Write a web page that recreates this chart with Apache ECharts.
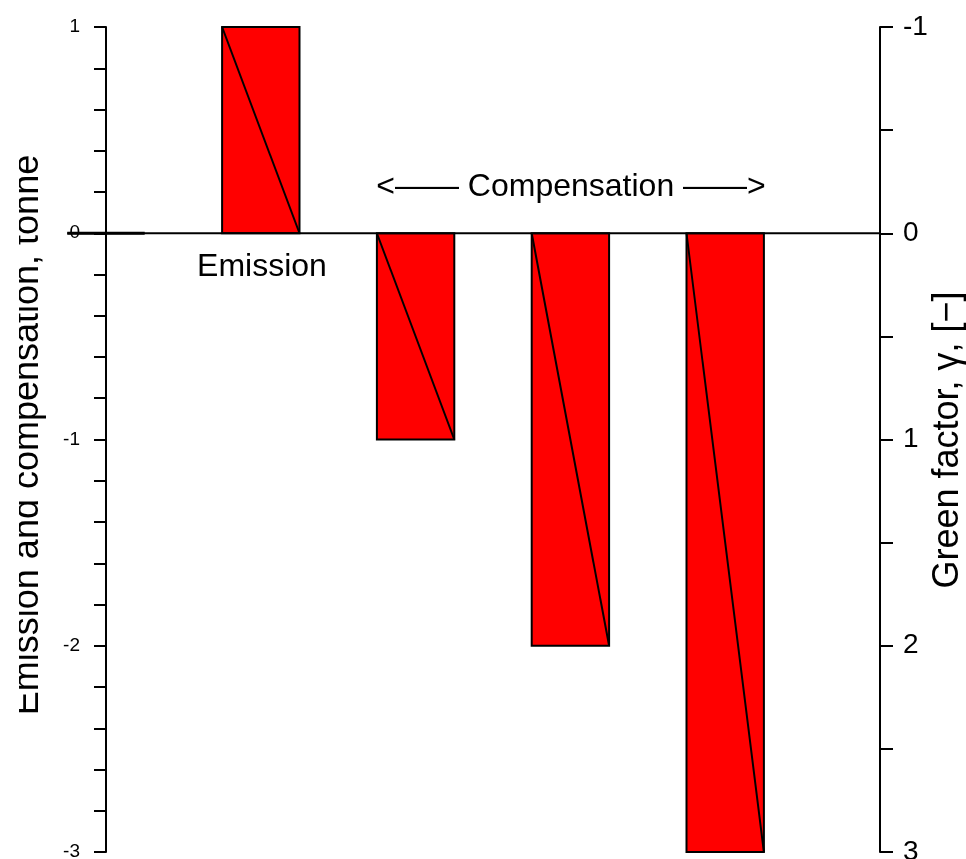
<!DOCTYPE html>
<html>
<head>
<meta charset="utf-8">
<script src="https://cdn.jsdelivr.net/npm/echarts@6/dist/echarts.min.js"></script>
<style>
html,body{margin:0;padding:0;background:#fff;overflow:hidden;}
#chart{width:966px;height:859px;}
</style>
</head>
<body>
<div id="chart"></div>
<script>
// ---- data ----
const categories = ['Emission', 'Compensation 1', 'Compensation 2', 'Compensation 3'];
const positions = [1, 2, 3, 4];
const values = [1, -1, -2, -3];           // tonne
const leftTicks = { min: -3, max: 1, step: 0.2 };
const rightTicks = { min: -1, max: 3, step: 0.5 }; // green factor (inverted)

const FONT = "'Liberation Sans', Arial, Helvetica, sans-serif";
const barData = positions.map((p, i) => [p, values[i], categories[i]]);

const chart = echarts.init(document.getElementById('chart'), null, { renderer: 'canvas', width: 966, height: 859 });

function intLabel(v) {
  return Math.abs(v - Math.round(v)) < 1e-6 ? String(Math.round(v)) : '';
}

const option = {
  animation: false,
  backgroundColor: '#ffffff',
  grid: { left: 106, width: 774, top: 27, height: 825, containLabel: false, outerBoundsMode: 'none' },
  xAxis: { type: 'value', min: 0, max: 5, show: false },
  yAxis: [
    {
      type: 'value', position: 'left',
      min: leftTicks.min, max: leftTicks.max, interval: leftTicks.step,
      axisLine: { show: true, onZero: false, lineStyle: { color: '#000', width: 2 } },
      axisTick: { show: true, length: 12, lineStyle: { color: '#000', width: 2 } },
      axisLabel: { show: true, margin: 26, color: '#000', fontSize: 19, fontFamily: FONT,
                   formatter: intLabel, showMinLabel: true, showMaxLabel: true },
      splitLine: { show: false }
    },
    {
      type: 'value', position: 'right', inverse: true,
      min: rightTicks.min, max: rightTicks.max, interval: rightTicks.step,
      axisLine: { show: true, onZero: false, lineStyle: { color: '#000', width: 2 } },
      axisTick: { show: true, length: 13, lineStyle: { color: '#000', width: 2 } },
      axisLabel: { show: true, margin: 23, color: '#000', fontSize: 28, fontFamily: FONT,
                   formatter: intLabel, showMinLabel: true, showMaxLabel: true },
      splitLine: { show: false }
    }
  ],
  series: [
    {
      type: 'custom',
      name: 'bars',
      yAxisIndex: 0,
      data: barData,
      encode: { x: 0, y: 1 },
      renderItem: function (params, api) {
        const x = api.value(0), v = api.value(1);
        const pZero = api.coord([x, 0]);
        const pVal = api.coord([x, v]);
        const w = api.size([0.5, 0])[0];
        const left = pZero[0] - w / 2, right = pZero[0] + w / 2;
        const top = Math.min(pZero[1], pVal[1]), bottom = Math.max(pZero[1], pVal[1]);
        return {
          type: 'group',
          children: [
            { type: 'rect', shape: { x: left, y: top, width: w, height: bottom - top },
              style: { fill: '#ff0000', stroke: '#000', lineWidth: 2 } },
            { type: 'line', shape: { x1: left, y1: top, x2: right, y2: bottom },
              style: { stroke: '#000', lineWidth: 2 } }
          ]
        };
      },
      z: 2
    }
  ]
};
chart.setOption(option);

// zero reference line, positioned through the chart's own scales
const z0 = chart.convertToPixel({ xAxisIndex: 0, yAxisIndex: 0 }, [0, 0]);
const z5 = chart.convertToPixel({ xAxisIndex: 0, yAxisIndex: 0 }, [5, 0]);
const unit = (z5[0] - z0[0]) / 5;
chart.setOption({
  graphic: [
    { type: 'line', z: 5, shape: { x1: z0[0] - 0.25 * unit, y1: z0[1], x2: z5[0], y2: z0[1] },
      style: { stroke: '#000', lineWidth: 2 } },
    { type: 'line', z: 5, shape: { x1: z0[0] - 0.25 * unit, y1: z0[1], x2: z0[0] + 0.25 * unit, y2: z0[1] },
      style: { stroke: '#000', lineWidth: 3 } },
    { type: 'text', x: 28, y: 435, rotation: Math.PI / 2, z: 10,
      style: { text: 'Emission and compensation, tonne', font: '36px ' + FONT, fill: '#000',
               textAlign: 'center', textVerticalAlign: 'middle' } },
    { type: 'rect', shape: { x: 0, y: 0, width: 19, height: 859 }, z: 20,
      style: { fill: '#ffffff' } },
    { type: 'text', x: 948, y: 440, rotation: Math.PI / 2, z: 10,
      style: { text: 'Green factor, \u03b3, [\u2212]', font: '36px ' + FONT, fill: '#000',
               textAlign: 'center', textVerticalAlign: 'middle' } },
    { type: 'text', x: 262, y: 267, z: 10,
      style: { text: 'Emission', font: '32px ' + FONT, fill: '#000',
               textAlign: 'center', textVerticalAlign: 'middle' } },
    { type: 'text', x: 571, y: 187, z: 10,
      style: { text: '<\u2014\u2014 Compensation \u2014\u2014>', font: '32px ' + FONT, fill: '#000',
               textAlign: 'center', textVerticalAlign: 'middle' } }
  ]
});
</script>
</body>
</html>
